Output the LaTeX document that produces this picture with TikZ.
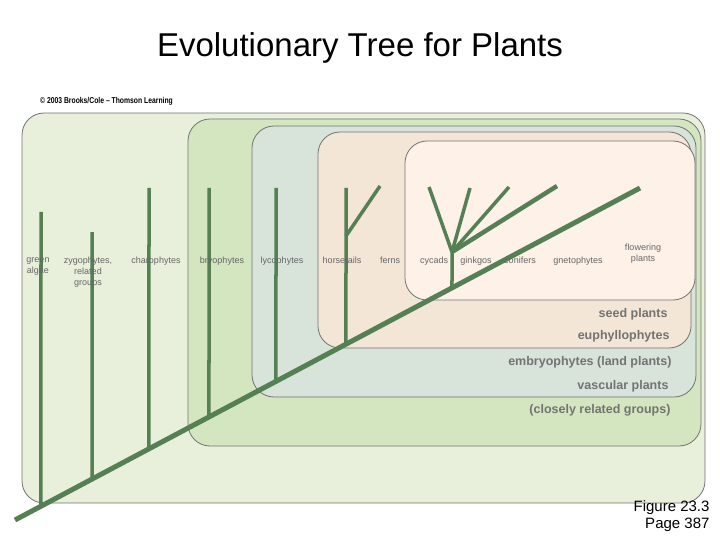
\documentclass[tikz,border=0pt]{standalone}
\usepackage{fontspec}
\setmainfont{Liberation Sans}
\usetikzlibrary{calc}
\begin{document}
\begin{tikzpicture}[x=1pt,y=-1pt,
  grp/.style={draw=black!55,line width=0.8pt,rounded corners=22pt},
  lab/.style={font=\fontsize{9}{11}\selectfont,text=black!60,align=center,inner sep=1pt},
  big/.style={font=\fontsize{12.5}{14}\selectfont\bfseries,text=black!55,anchor=east}]
\useasboundingbox (0,0) rectangle (720,540);
\definecolor{c1}{HTML}{E8F0DC}\definecolor{c2}{HTML}{D3E6BF}\definecolor{c3}{HTML}{D8E3DA}
\definecolor{c4}{HTML}{F3E6D6}\definecolor{c5}{HTML}{FDF1E8}\definecolor{tr}{HTML}{548054}
\node (title) at (360,48) {\fontsize{33}{38}\selectfont Evolutionary Tree for Plants};
\node[anchor=west,font=\fontsize{8.5}{9}\selectfont\bfseries,inner sep=0,xscale=0.8] (copy) at (40,101) {\textcopyright\ 2003 Brooks/Cole -- Thomson Learning};
\filldraw[fill=c1,grp] (22,113) rectangle (705,503);
\filldraw[fill=c2,grp] (188,119) rectangle (701,446);
\filldraw[fill=c3,grp] (252,126) rectangle (696,397);
\filldraw[fill=c4,grp] (318,132) rectangle (691,348);
\filldraw[fill=c5,grp] (405,141) rectangle (695,300);
\begin{scope}[draw=tr,line width=3.5pt]
\coordinate (r) at (15,520); \coordinate (top) at (640,188);
\coordinate (j) at (452,252);
\foreach \x/\t in {41/212,92/232,149/188,209/188,276/188,346/188}{
  \draw (\x,\t) -- ($(r)!{(\x-15)/625}!(top)$);}
\draw (346,236) -- (380,186);
\draw ($(r)!{(452-15)/625}!(top)$) -- (j);
\draw (j) -- (429,187); \draw (j) -- (470,188); \draw (j) -- (509,187);
\draw[line width=4.5pt] (j) -- (557,186);
\draw[line width=5pt] (r) -- (top);
\end{scope}
\node[lab,anchor=north] at (38,256) {green\\algae};
\node[lab,anchor=north] at (88,256) {zygophytes,\\related\\groups};
\node[lab,anchor=north] at (156,256) {charophytes};
\node[lab,anchor=north] at (222,256) {bryophytes};
\node[lab,anchor=north] at (282,256) {lycophytes};
\node[lab,anchor=north] at (342,256) {horsetails};
\node[lab,anchor=north] at (390,256) {ferns};
\node[lab,anchor=north] at (434,256) {cycads};
\node[lab,anchor=north] at (476,256) {ginkgos};
\node[lab,anchor=north] at (520,256) {conifers};
\node[lab,anchor=north] at (578,256) {gnetophytes};
\node[lab,anchor=north] at (643,243) {flowering\\plants};
\node[big] at (671,314) {seed plants};
\node[big] at (673,336) {euphyllophytes};
\node[big] at (675,362) {embryophytes (land plants)};
\node[big] at (672,386) {vascular plants};
\node[big] at (674,410) {(closely related groups)};
\node[font=\fontsize{15}{17}\selectfont,align=right,anchor=south east] at (713,535) {Figure 23.3\\Page 387};
\end{tikzpicture}
\end{document}
